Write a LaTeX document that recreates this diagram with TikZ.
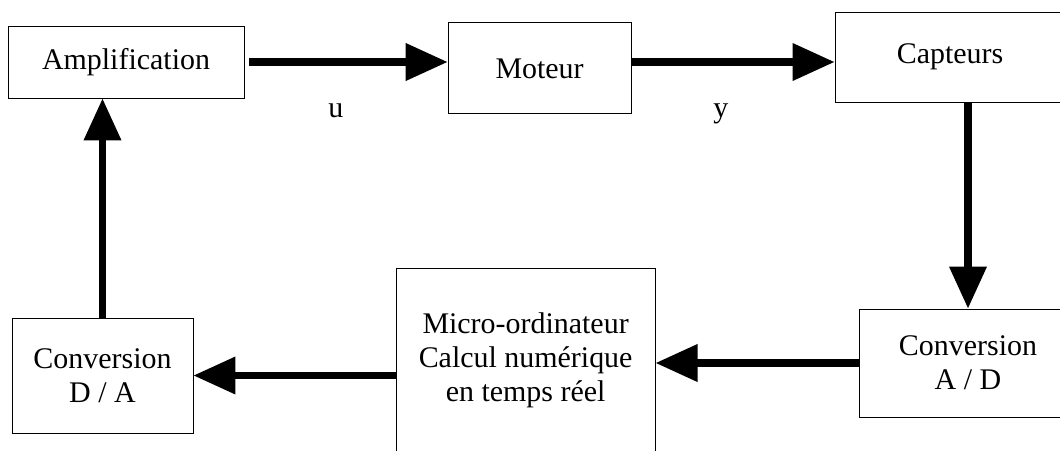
\documentclass[tikz,border=0pt]{standalone}
\usepackage{fontspec}
\setmainfont{Liberation Serif}
\usetikzlibrary{arrows.meta}

\begin{document}
\begin{tikzpicture}[line width=0.6pt,
  bloc/.style={draw,inner sep=0pt,align=center,font=\fontsize{21.3}{24.1}\selectfont},
  fleche/.style={line width=5pt,-{Triangle[length=10.5mm,width=9mm]}},
  etiq/.style={inner sep=0pt,font=\fontsize{21.3}{24.1}\selectfont}]
  \useasboundingbox (0,0) rectangle (26.5,-11.25);
  \clip (0,0) rectangle (26.5,-11.25);
  % chaine directe
  \node[bloc,minimum width=5.9cm,minimum height=1.8cm] (amp) at (3.15,-1.55) {Amplification};
  \node[bloc,minimum width=4.575cm,minimum height=2.275cm] (mot) at (13.49,-1.71) {Moteur};
  \node[bloc,minimum width=5.75cm,minimum height=2.25cm] (cap) at (23.75,-1.425) {Capteurs};
  % retour numerique
  \node[bloc,minimum width=5.45cm,minimum height=2.7cm] (ad) at (24.2,-9.075) {Conversion\\A / D};
  \node[bloc,minimum width=6.475cm,minimum height=4.6cm] (micro) at (13.14,-9.0) {Micro-ordinateur\\Calcul numérique\\en temps réel};
  \node[bloc,minimum width=4.525cm,minimum height=2.875cm] (da) at (2.5625,-9.3875) {Conversion\\D / A};
  % liaisons
  \draw[fleche,shorten <=0.125cm] (amp.east) -- (amp.east -| mot.west)
    node[etiq,pos=0.45,below=0.95cm] (u) {u};
  \draw[fleche] (mot.east |- amp.east) -- (amp.east -| cap.west)
    node[etiq,pos=0.44,below=0.95cm] (y) {y};
  \draw[fleche] (ad.north |- cap.south) -- (ad.north);
  \draw[fleche] (ad.west) -- (ad.west -| micro.east);
  \draw[fleche] (micro.west |- da.east) -- (da.east);
  \draw[fleche] (da.north) -- (da.north |- amp.south);
\end{tikzpicture}
\end{document}
